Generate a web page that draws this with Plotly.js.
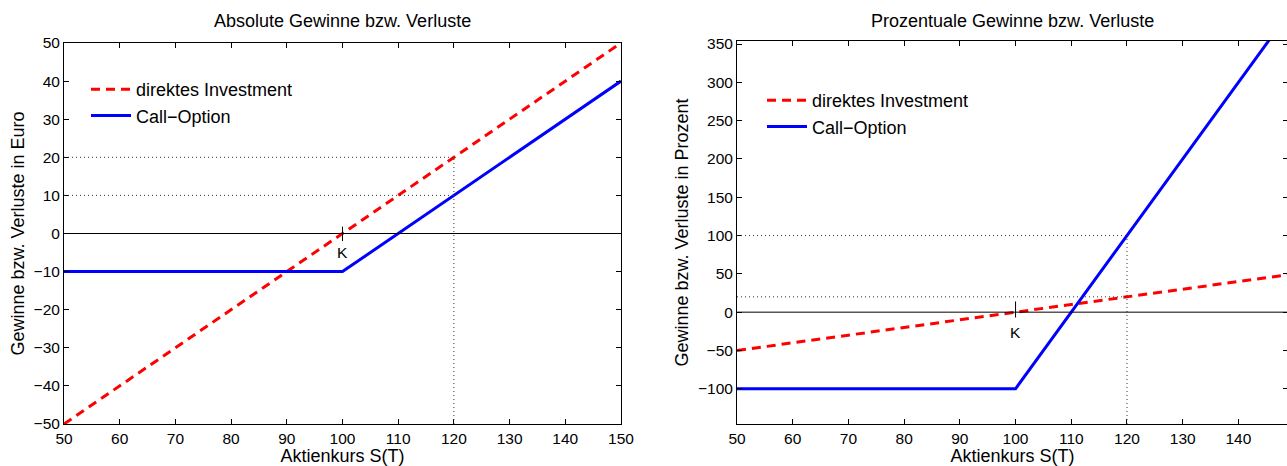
<!DOCTYPE html>
<html>
<head>
<meta charset="utf-8">
<script src="https://cdn.plot.ly/plotly-3.0.1.min.js"></script>
<style>html,body{margin:0;padding:0;overflow:hidden;background:#fff}#chart{width:1290px;height:466px}</style>
</head>
<body>
<div id="chart"></div>
<script>
// ---- data ----
const aktienkurs = [50, 100, 150];
const direktAbs = [-50, 0, 50];
const callAbs = [-10, -10, 40];
const direktPct = [-50, 0, 50];
const callPct = [-100, -100, 400];
const strikeK = 100;
const refKurs = 120;
const refAbs = [10, 20];
const refPct = [20, 100];
const absTicks = [-50, -40, -30, -20, -10, 0, 10, 20, 30, 40, 50];
const pctTicks = [-100, -50, 0, 50, 100, 150, 200, 250, 300, 350];
const kursTicksL = [50, 60, 70, 80, 90, 100, 110, 120, 130, 140, 150];
const kursTicksR = [50, 60, 70, 80, 90, 100, 110, 120, 130, 140];
const seriesNames = ['direktes Investment', 'Call\u2212Option'];
const titles = ['Absolute Gewinne bzw. Verluste', 'Prozentuale Gewinne bzw. Verluste'];

const W = 1290, H = 466;
const FONT = 'Liberation Sans, Arial, Helvetica, sans-serif';
const red = '#ff0000', blue = '#0000ff';

const traces = [
  {x: aktienkurs, y: direktAbs, xaxis: 'x', yaxis: 'y', mode: 'lines', name: seriesNames[0],
   line: {color: red, width: 3, dash: '9px,6px'}, legend: 'legend'},
  {x: aktienkurs, y: callAbs, xaxis: 'x', yaxis: 'y', mode: 'lines', name: seriesNames[1],
   line: {color: blue, width: 3}, legend: 'legend'},
  {x: aktienkurs, y: direktPct, xaxis: 'x2', yaxis: 'y2', mode: 'lines', name: seriesNames[0],
   line: {color: red, width: 3, dash: '9px,6px'}, legend: 'legend2'},
  {x: aktienkurs, y: callPct, xaxis: 'x2', yaxis: 'y2', mode: 'lines', name: seriesNames[1],
   line: {color: blue, width: 3}, legend: 'legend2'}
];

const dot = {color: '#333', width: 1, dash: '1px,3px'};
const shapes = [];
function addRefs(xr, yr, xmin, ymin, refs, kHalfUp, kHalfDown) {
  refs.forEach(v => shapes.push({type: 'line', xref: xr, yref: yr, x0: xmin, x1: refKurs, y0: v, y1: v, line: dot}));
  shapes.push({type: 'line', xref: xr, yref: yr, x0: refKurs, x1: refKurs, y0: ymin, y1: Math.max(...refs), line: dot});
  shapes.push({type: 'line', xref: xr, yref: yr, x0: aktienkurs[0], x1: aktienkurs[aktienkurs.length - 1], y0: 0, y1: 0, line: {color: '#000', width: 1}});
  shapes.push({type: 'line', xref: xr, yref: yr, x0: strikeK, x1: strikeK, y0: -kHalfDown, y1: kHalfUp, line: {color: '#000', width: 1}});
}
addRefs('x', 'y', 50, -50, refAbs, 1.8, 2);
addRefs('x2', 'y2', 50, -146, refPct, 14, 7);

const TICK = 15.5, BIG = 18;
const axBase = {
  showgrid: false, zeroline: false, showline: true, linecolor: '#000', linewidth: 1,
  mirror: 'ticks', ticks: 'inside', ticklen: 5, tickcolor: '#000', tickwidth: 1,
  tickfont: {family: FONT, size: TICK, color: '#000'}, tickmode: 'array'
};

const layout = {
  width: W, height: H, margin: {l: 0, r: 0, t: 0, b: 0},
  paper_bgcolor: '#fff', plot_bgcolor: '#fff', showlegend: true,
  font: {family: FONT, color: '#000'},
  xaxis: Object.assign({}, axBase, {domain: [64 / W, 621 / W], range: [50, 150], tickvals: kursTicksL,
    title: {text: 'Aktienkurs S(T)', font: {family: FONT, size: BIG}, standoff: 0}, anchor: 'y'}),
  yaxis: Object.assign({}, axBase, {domain: [(H - 424) / H, (H - 43) / H], range: [-50, 50], tickvals: absTicks,
    title: {text: 'Gewinne bzw. Verluste in Euro', font: {family: FONT, size: BIG}, standoff: 4}, anchor: 'x'}),
  xaxis2: Object.assign({}, axBase, {domain: [737 / W, 1288 / W], range: [50, 148.9], tickvals: kursTicksR,
    title: {text: 'Aktienkurs S(T)', font: {family: FONT, size: BIG}, standoff: 0}, anchor: 'y2'}),
  yaxis2: Object.assign({}, axBase, {domain: [(H - 424) / H, (H - 41) / H], range: [-146, 354], tickvals: pctTicks,
    title: {text: 'Gewinne bzw. Verluste in Prozent', font: {family: FONT, size: BIG}, standoff: 4}, anchor: 'x2'}),
  legend: {x: 86 / W, y: 1 - 71 / H, xanchor: 'left', yanchor: 'top', bgcolor: 'rgba(0,0,0,0)',
    font: {family: FONT, size: BIG}, tracegroupgap: 0, itemwidth: 40},
  legend2: {x: 762 / W, y: 1 - 82 / H, xanchor: 'left', yanchor: 'top', bgcolor: 'rgba(0,0,0,0)',
    font: {family: FONT, size: BIG}, tracegroupgap: 0, itemwidth: 40},
  shapes: shapes,
  annotations: [
    {text: titles[0], xref: 'paper', yref: 'paper', x: (64 + 621) / 2 / W, y: 1 - 21 / H, showarrow: false,
     font: {family: FONT, size: BIG}, xanchor: 'center', yanchor: 'middle'},
    {text: titles[1], xref: 'paper', yref: 'paper', x: (737 + 1288) / 2 / W, y: 1 - 21 / H, showarrow: false,
     font: {family: FONT, size: BIG}, xanchor: 'center', yanchor: 'middle'},
    {text: 'K', xref: 'x', yref: 'y', x: strikeK, y: -5, showarrow: false, font: {family: FONT, size: TICK}, yanchor: 'middle'},
    {text: 'K', xref: 'x2', yref: 'y2', x: strikeK, y: -26, showarrow: false, font: {family: FONT, size: TICK}, yanchor: 'middle'}
  ]
};

Plotly.newPlot('chart', traces, layout, {displayModeBar: false, staticPlot: true});
</script>
</body>
</html>
